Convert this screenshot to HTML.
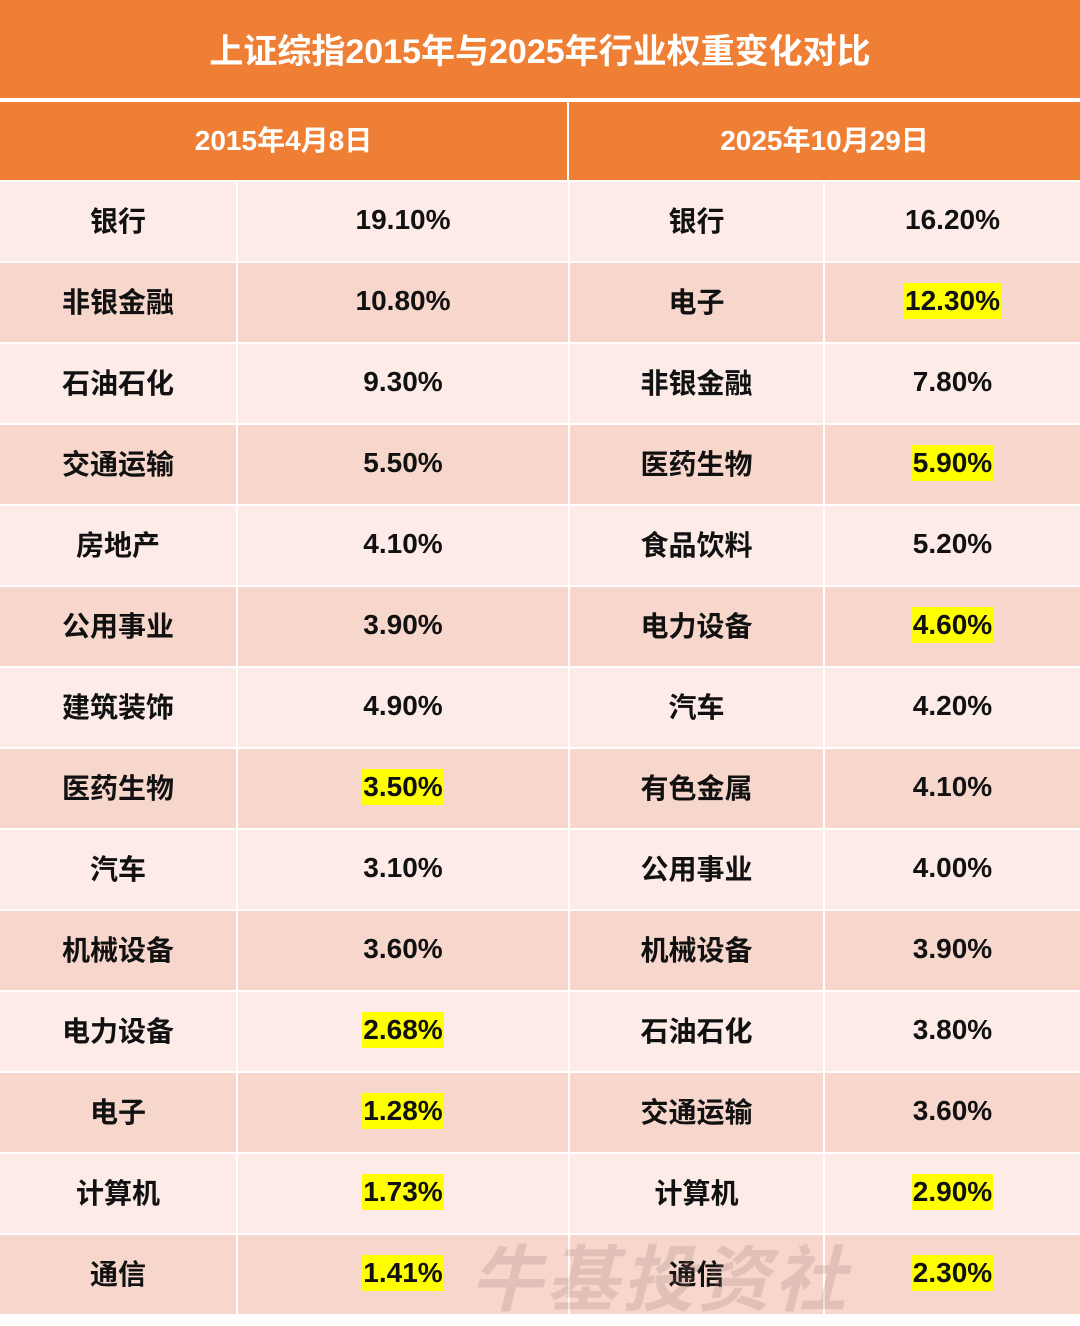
<!DOCTYPE html>
<html><head><meta charset="utf-8">
<style>
body{margin:0;width:1080px;height:1316px;background:#fff;position:relative;overflow:hidden;font-family:"Liberation Sans","Noto Sans CJK SC",sans-serif;}
.abs{position:absolute;box-sizing:border-box;display:flex;align-items:center;justify-content:center;}
#title{left:0;top:0;width:1080px;height:98px;background:#EE7F35;color:#fff;font-size:34px;font-weight:bold;padding-bottom:2px;}
.hdr{top:102px;height:78px;background:#EE7F35;color:#fff;font-size:28px;font-weight:bold;padding-bottom:4px;}
.cell{font-size:28px;font-weight:bold;color:#111;padding-bottom:3px;}
.hl{background:#FFFF00;padding:0 1px;line-height:36px;}
#wm{left:470px;top:1228px;width:460px;height:90px;font-size:72px;font-weight:bold;color:rgba(150,120,110,0.22);justify-content:flex-start;letter-spacing:4px;font-style:italic;}
</style></head><body>
<div id="title" class="abs">上证综指2015年与2025年行业权重变化对比</div>
<div class="abs hdr" style="left:0;width:567px">2015年4月8日</div>
<div class="abs hdr" style="left:569px;width:511px">2025年10月29日</div>
<div id="rows"></div>
<div id="wm" class="abs">牛基投资社</div>
<script>
const ind2015=["银行","非银金融","石油石化","交通运输","房地产","公用事业","建筑装饰","医药生物","汽车","机械设备","电力设备","电子","计算机","通信"];
const w2015=["19.10%","10.80%","9.30%","5.50%","4.10%","3.90%","4.90%","3.50%","3.10%","3.60%","2.68%","1.28%","1.73%","1.41%"];
const hl2015=[0,0,0,0,0,0,0,1,0,0,1,1,1,1];
const ind2025=["银行","电子","非银金融","医药生物","食品饮料","电力设备","汽车","有色金属","公用事业","机械设备","石油石化","交通运输","计算机","通信"];
const w2025=["16.20%","12.30%","7.80%","5.90%","5.20%","4.60%","4.20%","4.10%","4.00%","3.90%","3.80%","3.60%","2.90%","2.30%"];
const hl2025=[0,1,0,1,0,1,0,0,0,0,0,0,1,1];
const cols=[[0,236],[238,330],[570,253],[825,255]];
const root=document.getElementById('rows');
for(let i=0;i<ind2015.length;i++){
  const top=182+i*81, bg=i%2?'#F7D6CC':'#FCEBE7';
  const vals=[[ind2015[i],0],[w2015[i],hl2015[i]],[ind2025[i],0],[w2025[i],hl2025[i]]];
  const names=['industry-2015','weight-2015','industry-2025','weight-2025'];
  for(let c=0;c<4;c++){
    const d=document.createElement('div');
    d.className='abs cell';
    d.style.cssText=`left:${cols[c][0]}px;top:${top}px;width:${cols[c][1]}px;height:79px;background:${bg}`;
    
    
    const s=document.createElement('span');
    if(vals[c][1]) s.className='hl';
    s.textContent=vals[c][0];
    d.appendChild(s);
    root.appendChild(d);
  }
}
</script>
</body></html>
